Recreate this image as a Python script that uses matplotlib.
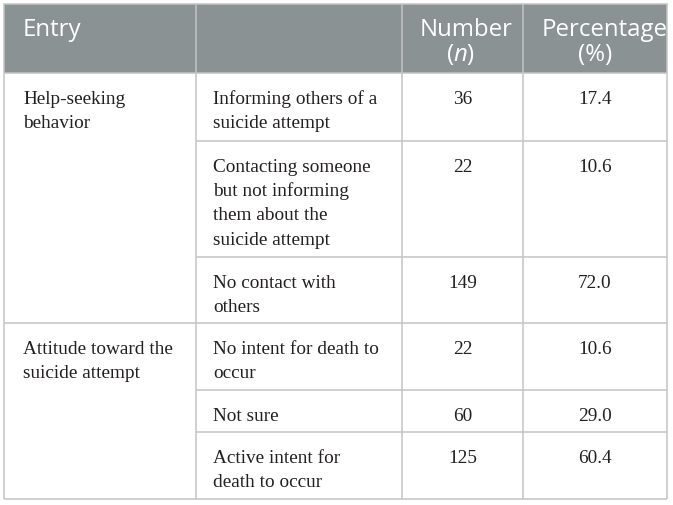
import matplotlib.pyplot as plt

plt.rcParams["mathtext.fontset"] = "custom"
plt.rcParams["mathtext.rm"] = "Open Sans"
plt.rcParams["mathtext.it"] = "Open Sans:italic"

# Table content
entries = ["Help-seeking\nbehavior", "Attitude toward the\nsuicide attempt"]
entry_rows = [3, 3]  # number of sub rows per entry
sub_items = [
    "Informing others of a\nsuicide attempt",
    "Contacting someone\nbut not informing\nthem about the\nsuicide attempt",
    "No contact with\nothers",
    "No intent for death to\noccur",
    "Not sure",
    "Active intent for\ndeath to occur",
]
numbers = [36, 22, 149, 22, 60, 125]
percentages = [17.4, 10.6, 72.0, 10.6, 29.0, 60.4]

# Layout (pixels)
col_edges = [4, 196, 402, 523, 667]
row_edges = [74, 142, 258, 324, 391, 433, 500]
top = 5
header_col = "#8b9294"
line_col = "#c4c4c4"
text_col = "#231f20"
body_font = "Liberation Serif"
head_font = "Open Sans"
body_size = 13.9
head_size = 17.3
line_gap = 24.2
first_base = 30

fig = plt.figure(figsize=(6.73, 5.06), dpi=100)
ax = fig.add_axes([0, 0, 1, 1])
ax.set_xlim(0, 673)
ax.set_ylim(506, 0)
ax.axis("off")

# header band
ax.fill_between([col_edges[0], col_edges[-1]], top, row_edges[0],
                color=header_col, lw=0)

lw = 1.1
# vertical lines
for x in col_edges:
    ax.plot([x, x], [top, row_edges[-1]], color=line_col, lw=lw,
            solid_capstyle="butt")
ax.plot([col_edges[0], col_edges[-1]], [top, top], color=line_col, lw=lw)

# horizontal lines
group_bounds = [0]
for n in entry_rows:
    group_bounds.append(group_bounds[-1] + n)
for i, y in enumerate(row_edges):
    x0 = col_edges[0] if i in group_bounds else col_edges[1]
    ax.plot([x0, col_edges[-1]], [y, y], color=line_col, lw=lw,
            solid_capstyle="butt")

# header text
ax.text(23, 36, "Entry", color="white", fontsize=head_size,
        family=head_font, va="baseline", ha="left")
ax.text(466, 36, "Number", color="white", fontsize=head_size,
        family=head_font, va="baseline", ha="center")
ax.text(461, 61, r"($\mathit{n}$)", color="white", fontsize=head_size,
        family=head_font, va="baseline", ha="center")
ax.text(542, 36, "Percentage", color="white", fontsize=head_size,
        family=head_font, va="baseline", ha="left")
ax.text(595, 61, "(%)", color="white", fontsize=head_size,
        family=head_font, va="baseline", ha="center")


def put_lines(x, y0, txt, ha="left"):
    for k, line in enumerate(txt.split("\n")):
        ax.text(x, y0 + first_base + k * line_gap, line, color=text_col,
                fontsize=body_size, family=body_font, va="baseline", ha=ha)


# entry column
for g, name in enumerate(entries):
    put_lines(23, row_edges[group_bounds[g]], name)

# body rows
num_x = (col_edges[2] + col_edges[3]) / 2
pct_x = (col_edges[3] + col_edges[4]) / 2
for r, item in enumerate(sub_items):
    y0 = row_edges[r]
    put_lines(213, y0, item)
    put_lines(num_x, y0, str(numbers[r]), ha="center")
    put_lines(pct_x, y0, f"{percentages[r]:.1f}", ha="center")

fig.savefig("out.png", dpi=100)
